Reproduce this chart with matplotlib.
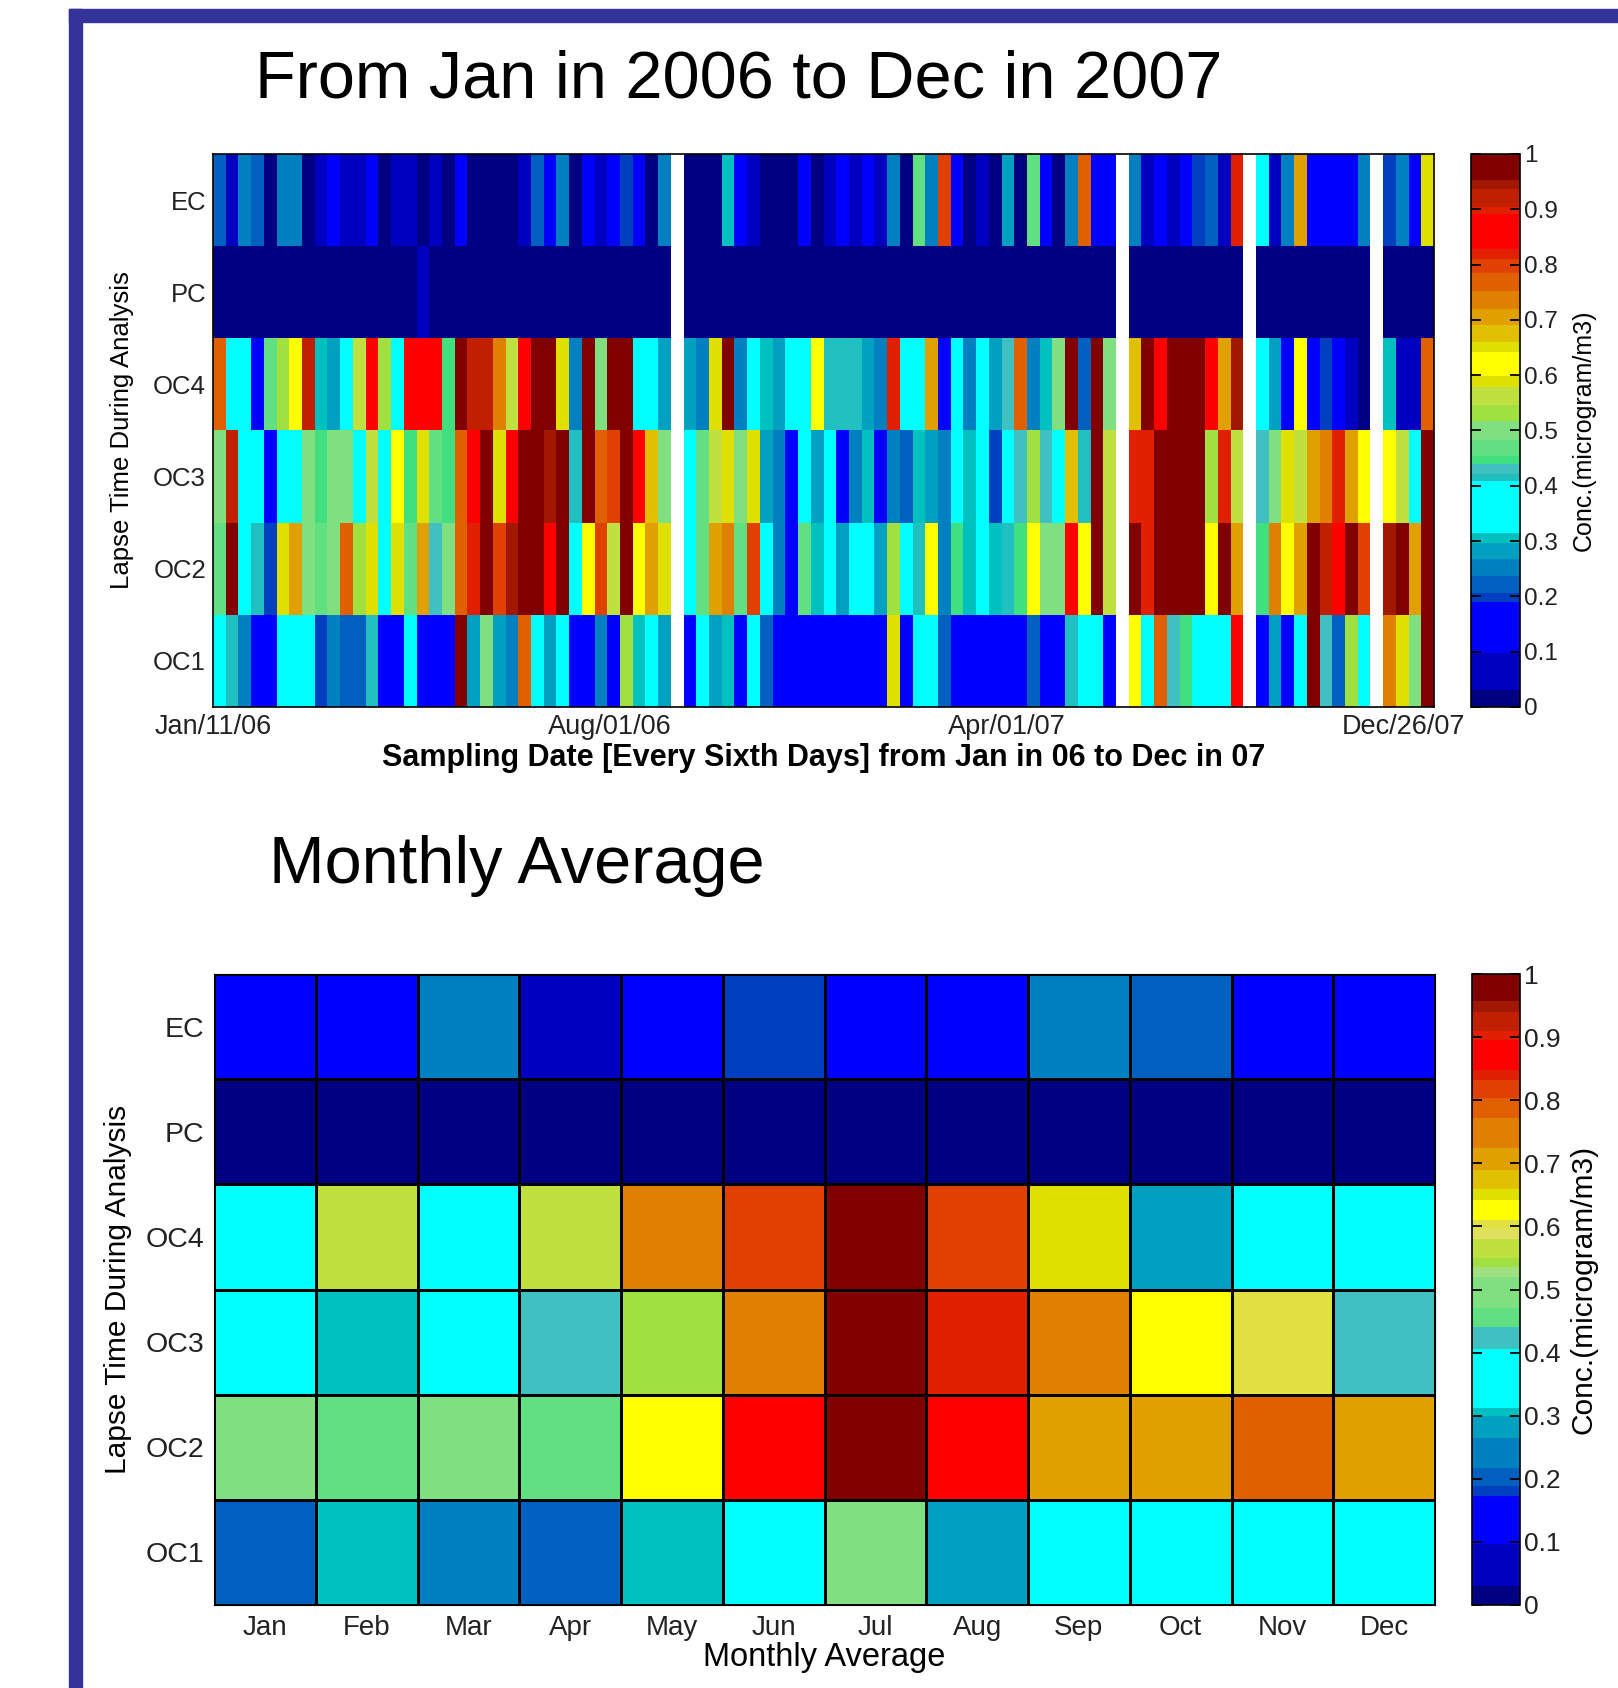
import numpy as np
import matplotlib
matplotlib.use("Agg")
import matplotlib.pyplot as plt
from matplotlib.colors import ListedColormap, to_rgb
from matplotlib.patches import Rectangle

plt.rcParams['font.family'] = ['Liberation Sans', 'DejaVu Sans']

nan = np.nan

# row names, top to bottom
rows = ['EC', 'PC', 'OC4', 'OC3', 'OC2', 'OC1']

# samples taken every sixth day, Jan/11/06 .. Dec/26/07 (nan = missing sample)
ec = [0.22, 0.06, 0.25, 0.22, 0.015, 0.25, 0.25, 0.015, 0.06, 0.14, 0.06, 0.06,
      0.14, 0.015, 0.06, 0.06, 0.015, 0.06, 0.015, 0.14, 0.015, 0.015, 0.015, 0.015,
      0.06, 0.22, 0.14, 0.25, 0.015, 0.14, 0.06, 0.14, 0.2, 0.14, 0.015, 0.25,
      nan, 0.015, 0.015, 0.015, 0.305, 0.14, 0.06, 0.015, 0.015, 0.015, 0.14, 0.015,
      0.06, 0.14, 0.06, 0.14, 0.06, 0.25, 0.015, 0.47, 0.25, 0.8, 0.14, 0.015,
      0.06, 0.015, 0.28, 0.015, 0.47, 0.14, 0.015, 0.25, 0.77, 0.14, 0.14, nan,
      0.25, 0.06, 0.14, 0.06, 0.14, 0.2, 0.22, 0.06, 0.82, nan, 0.36, 0.06,
      0.25, 0.705, 0.14, 0.14, 0.14, 0.14, 0.25, nan, 0.2, 0.25, 0.14, 0.65]
pc = [0.015] * 16 + [0.06] + [0.015] * 19 + [nan] + [0.015] * 34 + [nan] \
     + [0.015] * 9 + [nan] + [0.015] * 9 + [nan] + [0.015] * 4
oc4 = [0.77, 0.36, 0.36, 0.14, 0.47, 0.53, 0.62, 0.92, 0.305, 0.28, 0.36, 0.56,
       0.86, 0.53, 0.36, 0.86, 0.86, 0.86, 0.445, 0.97, 0.92, 0.92, 0.735, 0.56,
       0.86, 0.97, 0.97, 0.65, 0.25, 0.97, 0.5, 0.97, 0.97, 0.36, 0.36, 0.28,
       nan, 0.28, 0.25, 0.65, 0.97, 0.25, 0.36, 0.305, 0.28, 0.36, 0.36, 0.62,
       0.415, 0.415, 0.415, 0.28, 0.25, 0.82, 0.36, 0.36, 0.705, 0.14, 0.36, 0.25,
       0.36, 0.28, 0.43, 0.77, 0.25, 0.305, 0.5, 0.97, 0.22, 0.97, 0.5, nan,
       0.675, 0.97, 0.86, 0.97, 0.97, 0.97, 0.86, 0.705, 0.945, nan, 0.36, 0.28,
       0.14, 0.62, 0.14, 0.2, 0.14, 0.06, 0.015, nan, 0.305, 0.06, 0.06, 0.77]
oc3 = [0.5, 0.92, 0.36, 0.36, 0.14, 0.36, 0.36, 0.5, 0.445, 0.5, 0.5, 0.36,
       0.56, 0.36, 0.62, 0.445, 0.65, 0.47, 0.445, 0.77, 0.86, 0.97, 0.65, 0.86,
       0.97, 0.97, 0.945, 0.97, 0.415, 0.97, 0.77, 0.8, 0.97, 0.86, 0.675, 0.5,
       nan, 0.36, 0.47, 0.56, 0.65, 0.5, 0.65, 0.28, 0.25, 0.14, 0.36, 0.28,
       0.36, 0.14, 0.25, 0.305, 0.14, 0.25, 0.22, 0.305, 0.28, 0.25, 0.36, 0.305,
       0.36, 0.2, 0.36, 0.43, 0.53, 0.43, 0.36, 0.675, 0.415, 0.97, 0.56, nan,
       0.82, 0.82, 0.97, 0.97, 0.97, 0.97, 0.53, 0.82, 0.56, nan, 0.43, 0.5,
       0.65, 0.56, 0.705, 0.735, 0.82, 0.705, 0.62, nan, 0.62, 0.56, 0.36, 0.97]
oc2 = [0.47, 0.97, 0.36, 0.415, 0.2, 0.65, 0.705, 0.5, 0.47, 0.5, 0.77, 0.53,
       0.65, 0.36, 0.65, 0.47, 0.705, 0.43, 0.5, 0.77, 0.82, 0.97, 0.8, 0.945,
       0.97, 0.97, 0.86, 0.97, 0.36, 0.62, 0.8, 0.56, 0.97, 0.62, 0.705, 0.65,
       nan, 0.36, 0.47, 0.705, 0.735, 0.47, 0.8, 0.36, 0.25, 0.14, 0.47, 0.305,
       0.36, 0.28, 0.36, 0.36, 0.28, 0.53, 0.36, 0.415, 0.62, 0.25, 0.445, 0.305,
       0.36, 0.305, 0.415, 0.445, 0.62, 0.5, 0.5, 0.86, 0.62, 0.97, 0.56, nan,
       0.97, 0.82, 0.97, 0.97, 0.97, 0.97, 0.62, 0.97, 0.705, nan, 0.445, 0.735,
       0.62, 0.705, 0.97, 0.92, 0.86, 0.97, 0.8, nan, 0.945, 0.97, 0.705, 0.97]
oc1 = [0.36, 0.415, 0.25, 0.14, 0.14, 0.36, 0.36, 0.36, 0.2, 0.25, 0.22, 0.22,
       0.415, 0.14, 0.14, 0.36, 0.14, 0.14, 0.14, 0.97, 0.28, 0.5, 0.28, 0.25,
       0.77, 0.36, 0.28, 0.36, 0.14, 0.14, 0.25, 0.14, 0.53, 0.305, 0.36, 0.28,
       nan, 0.14, 0.36, 0.28, 0.305, 0.14, 0.36, 0.22, 0.14, 0.14, 0.14, 0.14,
       0.14, 0.14, 0.14, 0.14, 0.14, 0.65, 0.14, 0.36, 0.36, 0.22, 0.14, 0.14,
       0.14, 0.14, 0.14, 0.14, 0.22, 0.14, 0.14, 0.415, 0.36, 0.36, 0.14, nan,
       0.62, 0.36, 0.77, 0.43, 0.445, 0.36, 0.36, 0.36, 0.86, nan, 0.14, 0.28,
       0.14, 0.36, 0.97, 0.43, 0.22, 0.53, 0.36, nan, 0.735, 0.65, 0.5, 0.97]

date_labels = ['Jan/11/06', 'Aug/01/06', 'Apr/01/07', 'Dec/26/07']
date_ticks = np.linspace(0, 93.6, 4)

# monthly averages
months = ['Jan', 'Feb', 'Mar', 'Apr', 'May', 'Jun', 'Jul', 'Aug', 'Sep', 'Oct', 'Nov', 'Dec']
m_ec = [0.13, 0.13, 0.24, 0.06, 0.13, 0.18, 0.13, 0.13, 0.24, 0.2, 0.13, 0.13]
m_pc = [0.015] * 12
m_oc4 = [0.36, 0.565, 0.36, 0.565, 0.75, 0.82, 0.98, 0.82, 0.65, 0.28, 0.36, 0.36]
m_oc3 = [0.36, 0.306, 0.36, 0.42, 0.54, 0.75, 0.98, 0.84, 0.75, 0.625, 0.6, 0.42]
m_oc2 = [0.495, 0.455, 0.495, 0.455, 0.625, 0.87, 0.98, 0.87, 0.705, 0.705, 0.79, 0.705]
m_oc1 = [0.2, 0.306, 0.24, 0.2, 0.306, 0.36, 0.495, 0.28, 0.36, 0.36, 0.36, 0.36]

# the banded jet-like colour scales of the two colorbars
edges_top = [0, 0.03, 0.098, 0.189, 0.206, 0.236, 0.267, 0.297, 0.314, 0.409, 0.422,
             0.44, 0.453, 0.483, 0.517, 0.547, 0.578, 0.598, 0.642, 0.66, 0.69, 0.72,
             0.753, 0.784, 0.811, 0.828, 0.892, 0.905, 0.936, 0.953, 1.0]
cols_top = ['#000080', '#0000C0', '#0000FF', '#0040C0', '#0060C0', '#0080C0', '#00A0C0',
            '#00C0C0', '#00FFFF', '#20C0C0', '#40C0C0', '#40E080', '#60E080', '#80E080',
            '#A0E040', '#C0E040', '#E0E000', '#FFFF00', '#E0E000', '#E0C000', '#E0A000',
            '#E08000', '#E06000', '#E04000', '#E02000', '#FF0000', '#E02000', '#C02000',
            '#A01800', '#800000']
edges_bot = [0, 0.03, 0.096, 0.173, 0.188, 0.217, 0.264, 0.3, 0.312, 0.405, 0.44,
             0.47, 0.52, 0.535, 0.55, 0.58, 0.596, 0.61, 0.642, 0.66, 0.69, 0.724,
             0.772, 0.804, 0.832, 0.848, 0.896, 0.91, 0.94, 0.958, 1.0]
cols_bot = ['#000080', '#0000C0', '#0000FF', '#0040C0', '#0060C0', '#0080C0', '#00A0C0',
            '#00C0C0', '#00FFFF', '#40C0C0', '#60E080', '#80E080', '#A0E080', '#A0E040',
            '#C0E040', '#E0E060', '#E0E040', '#FFFF00', '#E0E000', '#E0C000', '#E0A000',
            '#E08000', '#E06000', '#E04000', '#E02000', '#FF0000', '#E02000', '#C02000',
            '#A01800', '#800000']


def banded_cmap(edges, colors, n=1000):
    v = (np.arange(n) + 0.5) / n
    idx = np.clip(np.searchsorted(edges, v, side='right') - 1, 0, len(colors) - 1)
    return ListedColormap([to_rgb(colors[i]) for i in idx])


cmap_top = banded_cmap(edges_top, cols_top)
cmap_bot = banded_cmap(edges_bot, cols_bot)

W, H = 1618, 1688
fig = plt.figure(figsize=(W / 100, H / 100), dpi=100)


def box(x0, y0, x1, y1):
    # pixel box (from top-left) -> figure fraction rect
    return [x0 / W, 1 - y1 / H, (x1 - x0) / W, (y1 - y0) / H]


# blue slide frame
fig.add_artist(Rectangle((69 / W, 0), 13 / W, 1 - 9 / H, transform=fig.transFigure,
                         color='#333399', zorder=0))
fig.add_artist(Rectangle((69 / W, 1 - 22 / H), 1 - 69 / W, 13 / H, transform=fig.transFigure,
                         color='#333399', zorder=0))

ticks = np.round(np.arange(0, 1.01, 0.1), 1)
tick_txt = ['0'] + ['%.1f' % t for t in ticks[1:-1]] + ['1']

# ---- top panel: every sampling day
top = np.ma.masked_invalid(np.array([ec, pc, oc4, oc3, oc2, oc1]))
ax1 = fig.add_axes(box(213, 154, 1434, 707))
m1 = ax1.pcolormesh(np.arange(top.shape[1] + 1), np.arange(len(rows) + 1), top,
                    cmap=cmap_top, vmin=0, vmax=1)
ax1.set_xlim(0, top.shape[1])
ax1.set_ylim(len(rows), 0)
ax1.set_yticks(np.arange(len(rows)) + 0.5)
ax1.set_yticklabels(rows, fontsize=18.5, color='#222222')
ax1.set_xticks(date_ticks)
ax1.set_xticklabels(date_labels, fontsize=19.5, color='#222222')
ax1.tick_params(length=0, pad=5)
ax1.set_xlabel('Sampling Date [Every Sixth Days] from Jan in 06 to Dec in 07',
               fontsize=22, fontweight='bold', labelpad=2)
ax1.set_ylabel('Lapse Time During Analysis', fontsize=18.5, labelpad=14)
for s in ax1.spines.values():
    s.set_linewidth(1.2)

cax1 = fig.add_axes(box(1471, 154, 1520, 707))
cb1 = fig.colorbar(m1, cax=cax1, ticks=ticks)
cb1.ax.set_yticklabels(tick_txt, fontsize=17.5, color='#222222')
cb1.ax.tick_params(direction='in', left=True, right=True, length=7, width=1.3, pad=3)
cb1.set_label('Conc.(microgram/m3)', fontsize=18, labelpad=10)
cb1.outline.set_linewidth(1.2)

fig.text(255 / W, 1 - 97 / H, 'From Jan in 2006 to Dec in 2007', fontsize=48,
         ha='left', va='baseline')

# ---- bottom panel: monthly average
mon = np.array([m_ec, m_pc, m_oc4, m_oc3, m_oc2, m_oc1])
ax2 = fig.add_axes(box(214, 974, 1435, 1605))
m2 = ax2.pcolormesh(np.arange(len(months) + 1), np.arange(len(rows) + 1), mon,
                    cmap=cmap_bot, vmin=0, vmax=1, edgecolors='black', linewidth=1.0)
ax2.set_xlim(0, len(months))
ax2.set_ylim(len(rows), 0)
ax2.set_yticks(np.arange(len(rows)) + 0.5)
ax2.set_yticklabels(rows, fontsize=20.5, color='#222222')
ax2.set_xticks(np.arange(len(months)) + 0.5)
ax2.set_xticklabels(months, fontsize=20, color='#222222')
ax2.tick_params(length=0, pad=7)
ax2.set_xlabel('Monthly Average', fontsize=23.5, labelpad=1)
ax2.set_ylabel('Lapse Time During Analysis', fontsize=21.5, labelpad=10)

cax2 = fig.add_axes(box(1472, 974, 1520, 1605))
cb2 = fig.colorbar(m2, cax=cax2, ticks=ticks)
cb2.ax.set_yticklabels(tick_txt, fontsize=19, color='#222222')
cb2.ax.tick_params(direction='in', left=True, right=True, length=7, width=1.3, pad=3)
cb2.set_label('Conc.(microgram/m3)', fontsize=21.5, labelpad=6)
cb2.outline.set_linewidth(1.2)

fig.text(269 / W, 1 - 883 / H, 'Monthly Average', fontsize=48, ha='left', va='baseline')

plt.savefig('out.png', dpi=100)
